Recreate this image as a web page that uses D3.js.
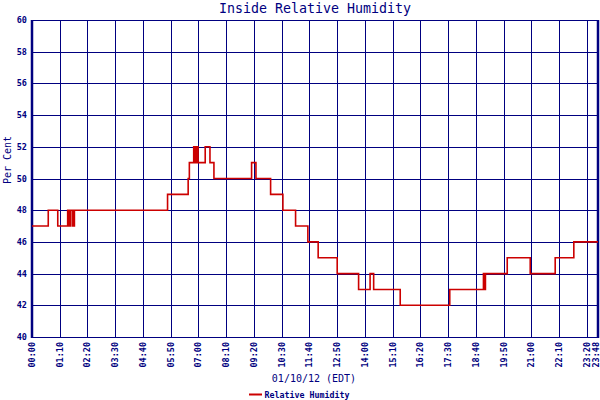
<!DOCTYPE html>
<html>
<head>
<meta charset="utf-8">
<script src="https://cdn.jsdelivr.net/npm/d3@7"></script>
<style>
  body { margin: 0; background: #fff; }
  svg { display: block; }
</style>
</head>
<body>
<svg width="600" height="400"></svg>
<script>
// Readings (time of change, humidity in per cent)
const readingTimes = [
  "00:00", "00:41", "01:05", "01:30", "01:34", "01:38", "01:43", "01:47",
  "05:42", "06:34", "06:37", "06:48", "06:50", "06:52", "06:54", "06:56",
  "06:59", "07:17", "07:29", "07:39", "09:14", "09:25", "10:02", "10:33",
  "11:05", "11:36", "12:02", "12:50", "13:44", "14:13", "14:22", "15:29",
  "17:34", "18:59", "19:02", "19:04", "19:59", "20:57", "22:00", "22:47",
  "23:48"
];
const humidity = [
  47, 48, 47, 48, 47, 48, 47, 48,
  49, 50, 51, 52, 51, 52, 51, 52,
  51, 52, 51, 50, 51, 50, 49, 48,
  47, 46, 45, 44, 43, 44, 43, 42,
  43, 44, 43, 44, 45, 44, 45, 46,
  46
];

const xTickLabels = [
  "00:00", "01:10", "02:20", "03:30", "04:40", "05:50", "07:00",
  "08:10", "09:20", "10:30", "11:40", "12:50", "14:00", "15:10",
  "16:20", "17:30", "18:40", "19:50", "21:00", "22:10", "23:20", "23:48"
];
const yTicks = [40, 42, 44, 46, 48, 50, 52, 54, 56, 58, 60];

const toMinutes = s => +s.slice(0, 2) * 60 + +s.slice(3, 5);

const svg = d3.select("svg");
const navy = "#000080";
const mono = "'DejaVu Sans Mono', monospace";

const plotLeft = 32, plotRight = 598, plotTop = 20, plotBottom = 337;

const x = d3.scaleLinear().domain([0, toMinutes("23:48")]).range([plotLeft, plotRight]);
const y = d3.scaleLinear().domain([40, 60]).range([plotBottom, plotTop]);

// Grid lines
svg.append("g")
  .selectAll("line")
  .data(yTicks)
  .enter().append("line")
  .attr("x1", plotLeft).attr("x2", plotRight)
  .attr("y1", d => Math.round(y(d)) + 0.5)
  .attr("y2", d => Math.round(y(d)) + 0.5)
  .attr("stroke", navy).attr("stroke-width", 1);

svg.append("g")
  .selectAll("line")
  .data(xTickLabels)
  .enter().append("line")
  .attr("x1", d => Math.round(x(toMinutes(d))) + 0.5)
  .attr("x2", d => Math.round(x(toMinutes(d))) + 0.5)
  .attr("y1", plotTop).attr("y2", plotBottom)
  .attr("stroke", navy).attr("stroke-width", 1);

// Left and right edges
svg.append("line")
  .attr("x1", plotLeft).attr("x2", plotLeft).attr("y1", plotTop).attr("y2", plotBottom + 1)
  .attr("stroke", navy).attr("stroke-width", 2.5);
svg.append("line")
  .attr("x1", plotRight).attr("x2", plotRight).attr("y1", plotTop).attr("y2", plotBottom + 1)
  .attr("stroke", navy).attr("stroke-width", 2.5);

// Y tick labels
svg.append("g")
  .selectAll("text")
  .data(yTicks)
  .enter().append("text")
  .attr("x", 27)
  .attr("y", d => y(d) + 3)
  .attr("text-anchor", "end")
  .attr("font-family", mono)
  .attr("font-size", 8.5)
  .attr("font-weight", "bold")
  .attr("fill", navy)
  .text(d => d);

// X tick labels (rotated); keep the last one inside the page
svg.append("g")
  .selectAll("text")
  .data(xTickLabels)
  .enter().append("text")
  .attr("transform", d => `translate(${Math.min(x(toMinutes(d)) + 3, 599)},342) rotate(-90)`)
  .attr("text-anchor", "end")
  .attr("font-family", mono)
  .attr("font-size", 8.5)
  .attr("font-weight", "bold")
  .attr("fill", navy)
  .text(d => d);

// Humidity line
const line = d3.line()
  .x(d => x(toMinutes(d[0])))
  .y(d => y(d[1]))
  .curve(d3.curveStepAfter);

svg.append("path")
  .datum(readingTimes.map((t, i) => [t, humidity[i]]))
  .attr("d", line)
  .attr("fill", "none")
  .attr("stroke", "#cc0000")
  .attr("stroke-width", 1.6);

// Title and axis labels
svg.append("text")
  .attr("x", 315).attr("y", 13)
  .attr("text-anchor", "middle")
  .attr("font-family", mono).attr("font-size", 13.3)
  .attr("fill", navy)
  .text("Inside Relative Humidity");

svg.append("text")
  .attr("transform", "translate(10.5,160) rotate(-90)")
  .attr("text-anchor", "middle")
  .attr("font-family", mono).attr("font-size", 10)
  .attr("fill", navy)
  .text("Per Cent");

svg.append("text")
  .attr("x", 314).attr("y", 382)
  .attr("text-anchor", "middle")
  .attr("font-family", mono).attr("font-size", 10)
  .attr("fill", navy)
  .text("01/10/12 (EDT)");

// Legend
svg.append("line")
  .attr("x1", 249).attr("x2", 262).attr("y1", 394.5).attr("y2", 394.5)
  .attr("stroke", "#cc0000").attr("stroke-width", 2);
svg.append("text")
  .attr("x", 264.5).attr("y", 398)
  .attr("font-family", mono).attr("font-size", 8.3)
  .attr("font-weight", "bold")
  .attr("fill", navy)
  .text("Relative Humidity");
</script>
</body>
</html>
